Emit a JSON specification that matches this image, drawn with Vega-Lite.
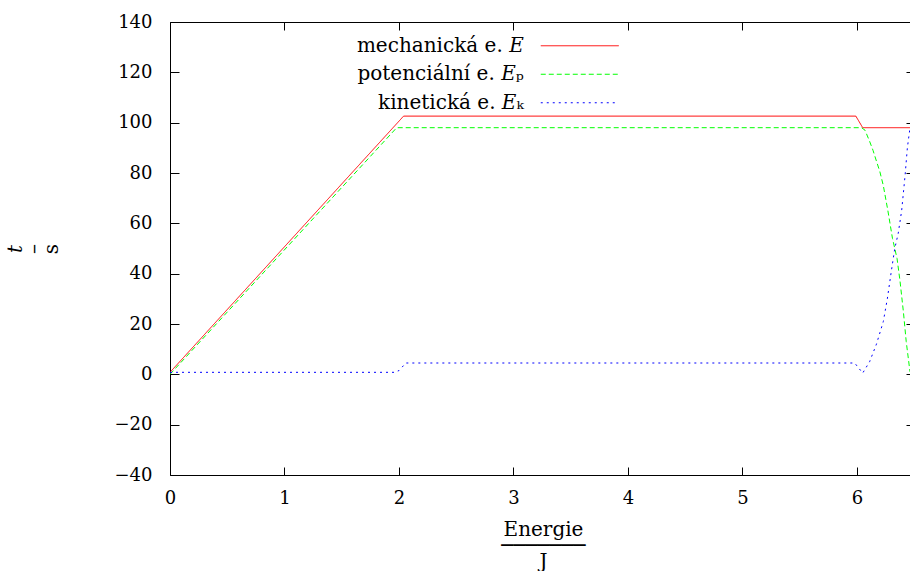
{
  "$schema": "https://vega.github.io/schema/vega-lite/v6.json",
  "width": 740,
  "height": 453,
  "autosize": "none",
  "padding": {"left": 170, "top": 22, "right": 0, "bottom": 96},
  "background": "white",
  "config": {
    "view": {"stroke": null},
    "font": "DejaVu Serif",
    "axis": {
      "domainColor": "black", "tickColor": "black", "labelColor": "black",
      "labelFont": "DejaVu Serif", "labelFontSize": 18, "grid": false,
      "domainWidth": 1, "tickWidth": 1, "titleFont": "DejaVu Serif",
      "titleFontSize": 20, "titleFontWeight": "normal", "titleColor": "black"
    }
  },
  "data": {"values": [
    {"x": 0, "y": 0.8, "s": "mechanická e. 𝐸"},
    {"x": 2.04, "y": 102.6, "s": "mechanická e. 𝐸"},
    {"x": 5.99, "y": 102.6, "s": "mechanická e. 𝐸"},
    {"x": 6.05, "y": 98, "s": "mechanická e. 𝐸"},
    {"x": 6.463, "y": 98, "s": "mechanická e. 𝐸"},
    {"x": 0, "y": 0, "s": "potenciální e. 𝐸ₚ"},
    {"x": 1.98, "y": 98, "s": "potenciální e. 𝐸ₚ"},
    {"x": 6.04, "y": 98, "s": "potenciální e. 𝐸ₚ"},
    {"x": 6.07, "y": 97, "s": "potenciální e. 𝐸ₚ"},
    {"x": 6.11, "y": 92.6, "s": "potenciální e. 𝐸ₚ"},
    {"x": 6.14, "y": 89, "s": "potenciální e. 𝐸ₚ"},
    {"x": 6.17, "y": 84.7, "s": "potenciální e. 𝐸ₚ"},
    {"x": 6.2, "y": 80.5, "s": "potenciální e. 𝐸ₚ"},
    {"x": 6.23, "y": 75, "s": "potenciální e. 𝐸ₚ"},
    {"x": 6.27, "y": 65, "s": "potenciální e. 𝐸ₚ"},
    {"x": 6.31, "y": 54, "s": "potenciální e. 𝐸ₚ"},
    {"x": 6.35, "y": 46, "s": "potenciální e. 𝐸ₚ"},
    {"x": 6.376, "y": 37, "s": "potenciální e. 𝐸ₚ"},
    {"x": 6.405, "y": 25, "s": "potenciální e. 𝐸ₚ"},
    {"x": 6.43, "y": 13, "s": "potenciální e. 𝐸ₚ"},
    {"x": 6.463, "y": 1, "s": "potenciální e. 𝐸ₚ"},
    {"x": 0, "y": 0.8, "s": "kinetická e. 𝐸ₖ"},
    {"x": 1.96, "y": 0.8, "s": "kinetická e. 𝐸ₖ"},
    {"x": 2.0, "y": 1.5, "s": "kinetická e. 𝐸ₖ"},
    {"x": 2.06, "y": 4.5, "s": "kinetická e. 𝐸ₖ"},
    {"x": 5.98, "y": 4.5, "s": "kinetická e. 𝐸ₖ"},
    {"x": 6.05, "y": 0.5, "s": "kinetická e. 𝐸ₖ"},
    {"x": 6.11, "y": 5, "s": "kinetická e. 𝐸ₖ"},
    {"x": 6.17, "y": 12, "s": "kinetická e. 𝐸ₖ"},
    {"x": 6.23, "y": 21, "s": "kinetická e. 𝐸ₖ"},
    {"x": 6.265, "y": 30, "s": "kinetická e. 𝐸ₖ"},
    {"x": 6.3, "y": 41, "s": "kinetická e. 𝐸ₖ"},
    {"x": 6.33, "y": 50, "s": "kinetická e. 𝐸ₖ"},
    {"x": 6.36, "y": 56, "s": "kinetická e. 𝐸ₖ"},
    {"x": 6.39, "y": 65, "s": "kinetická e. 𝐸ₖ"},
    {"x": 6.42, "y": 79, "s": "kinetická e. 𝐸ₖ"},
    {"x": 6.44, "y": 90, "s": "kinetická e. 𝐸ₖ"},
    {"x": 6.463, "y": 98, "s": "kinetická e. 𝐸ₖ"}
  ]},
  "layer": [
    {
      "mark": {"type": "line", "strokeWidth": 1, "clip": true},
      "encoding": {
        "x": {"field": "x", "type": "quantitative",
          "scale": {"domain": [0, 6.463], "nice": false, "zero": false},
          "axis": {"orient": "bottom", "values": [0, 1, 2, 3, 4, 5, 6], "tickSize": -8,
            "labelPadding": 22, "labelFlush": false,
            "title": ["Energie", "───────", "J"], "titleLineHeight": 16,
            "titleX": 373, "titleY": 54, "titleBaseline": "middle", "titleAlign": "center"}},
        "y": {"field": "y", "type": "quantitative",
          "scale": {"domain": [-40, 140], "nice": false, "zero": false},
          "axis": {"orient": "left", "values": [-40, -20, 0, 20, 40, 60, 80, 100, 120, 140], "tickSize": -9,
            "labelPadding": 27, "labelFlush": false,
            "labelExpr": "replace(datum.label, '-', '−')",
            "title": ["𝑡", "–", "s"], "titleLineHeight": 18, "titleAngle": 270,
            "titleX": -155, "titleY": 226.5, "titleBaseline": "middle", "titleAlign": "center"}},
        "color": {"field": "s", "type": "nominal",
          "scale": {"domain": ["mechanická e. 𝐸", "potenciální e. 𝐸ₚ", "kinetická e. 𝐸ₖ"],
            "range": ["#ff0000", "#00ff00", "#0000ff"]},
          "legend": {"orient": "none", "legendX": 399.25, "legendY": 13.25, "title": null,
            "symbolType": "M-4,0H4", "symbolSize": 380, "symbolStrokeWidth": 1,
            "labelAlign": "right", "labelOffset": -66.5, "labelFont": "DejaVu Serif",
            "labelFontSize": 20, "labelColor": "black", "rowPadding": 7.5, "labelLimit": 400}},
        "strokeDash": {"field": "s", "type": "nominal",
          "scale": {"domain": ["mechanická e. 𝐸", "potenciální e. 𝐸ₚ", "kinetická e. 𝐸ₖ"],
            "range": [[1, 0], [5, 3], [2, 4]]},
          "legend": {"orient": "none", "legendX": 399.25, "legendY": 13.25, "title": null,
            "symbolType": "M-4,0H4", "symbolSize": 380, "symbolStrokeWidth": 1,
            "labelAlign": "right", "labelOffset": -66.5, "labelFont": "DejaVu Serif",
            "labelFontSize": 20, "labelColor": "black", "rowPadding": 7.5, "labelLimit": 400}}
      }
    },
    {
      "mark": {"type": "point", "opacity": 0},
      "encoding": {
        "x": {"field": "x", "type": "quantitative",
          "scale": {"domain": [0, 6.463], "nice": false, "zero": false},
          "axis": {"orient": "top", "values": [0, 1, 2, 3, 4, 5, 6], "tickSize": -8,
            "labels": false, "title": null}},
        "y": {"field": "y", "type": "quantitative",
          "scale": {"domain": [-40, 140], "nice": false, "zero": false},
          "axis": {"orient": "right", "values": [-40, -20, 0, 20, 40, 60, 80, 100, 120, 140], "tickSize": -4,
            "labels": false, "domain": false, "title": null}}
      }
    }
  ],
  "resolve": {"axis": {"x": "independent", "y": "independent"}}
}
